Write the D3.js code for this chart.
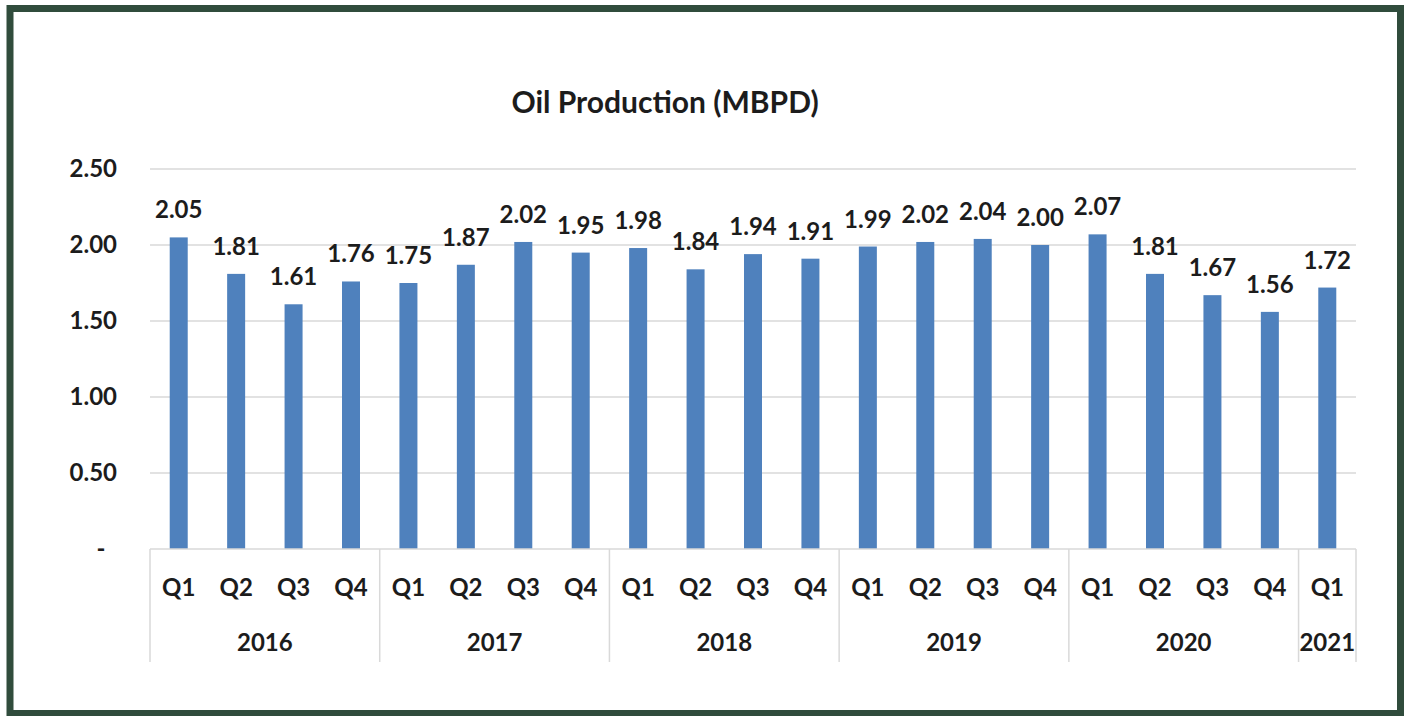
<!DOCTYPE html>
<html>
<head>
<meta charset="utf-8">
<script src="https://cdn.jsdelivr.net/npm/d3@7"></script>
<style>
  body { margin: 0; background: #fff; }
  text { font-family: Lato, "Open Sans", sans-serif; font-weight: bold; fill: #1c1c1c; }
</style>
</head>
<body>
<div id="chart"></div>
<script>
var years = ["2016", "2017", "2018", "2019", "2020", "2021"];
var quarters = ["Q1", "Q2", "Q3", "Q4", "Q1", "Q2", "Q3", "Q4", "Q1", "Q2", "Q3", "Q4",
    "Q1", "Q2", "Q3", "Q4", "Q1", "Q2", "Q3", "Q4", "Q1"];
var quarterYears = ["2016", "2016", "2016", "2016", "2017", "2017", "2017", "2017",
    "2018", "2018", "2018", "2018", "2019", "2019", "2019", "2019",
    "2020", "2020", "2020", "2020", "2021"];
var production = [2.05, 1.81, 1.61, 1.76, 1.75, 1.87, 2.02, 1.95, 1.98, 1.84, 1.94, 1.91,
    1.99, 2.02, 2.04, 2.00, 2.07, 1.81, 1.67, 1.56, 1.72];
var yTicks = [0, 0.5, 1, 1.5, 2, 2.5];

(function () {
    var width = 1410,
        height = 716;
    var left = 150, right = 1356, top = 169, bottom = 549;

    var svg = d3.select("#chart").append("svg")
        .attr("width", width)
        .attr("height", height);

    // frame
    svg.append("rect")
        .attr("x", 10).attr("y", 8.5)
        .attr("width", 1390.5).attr("height", 705)
        .attr("fill", "none")
        .attr("stroke", "#304c3c")
        .attr("stroke-width", 7);

    var data = production.map(function (v, i) {
        return { i: i, q: quarters[i], year: quarterYears[i], value: v };
    });

    var x = d3.scaleBand().domain(d3.range(data.length)).range([left, right]).padding(0);
    var y = d3.scaleLinear().domain([0, 2.5]).range([bottom, top]);
    var barW = 18;

    svg.append("text")
        .attr("x", 665).attr("y", 113)
        .attr("text-anchor", "middle")
        .style("font-size", "30px")
        .text("Oil Production (MBPD)");

    // gridlines
    svg.selectAll(".grid")
        .data(yTicks.filter(function (d) { return d > 0; }))
        .enter().append("line")
        .attr("class", "grid")
        .attr("x1", left).attr("x2", right)
        .attr("y1", function (d) { return y(d); })
        .attr("y2", function (d) { return y(d); })
        .attr("stroke", "#d9d9d9")
        .attr("stroke-width", 1.5);

    // y labels
    svg.selectAll(".ylab")
        .data(yTicks)
        .enter().append("text")
        .attr("class", "ylab")
        .attr("x", function (d) { return d === 0 ? 101 : 117; })
        .attr("y", function (d) { return y(d) + 8; })
        .attr("text-anchor", function (d) { return d === 0 ? "middle" : "end"; })
        .style("font-size", "24px")
        .text(function (d) { return d === 0 ? "-" : d3.format(".2f")(d); });

    // bars
    svg.selectAll(".bar")
        .data(data)
        .enter().append("rect")
        .attr("class", "bar")
        .attr("x", function (d) { return x(d.i) + x.bandwidth() / 2 - barW / 2; })
        .attr("y", function (d) { return y(d.value); })
        .attr("width", barW)
        .attr("height", function (d) { return bottom - y(d.value); })
        .attr("fill", "#4f81bd");

    // value labels
    svg.selectAll(".vlab")
        .data(data)
        .enter().append("text")
        .attr("class", "vlab")
        .attr("x", function (d) { return x(d.i) + x.bandwidth() / 2; })
        .attr("y", function (d) { return y(d.value) - 19; })
        .attr("text-anchor", "middle")
        .style("font-size", "24px")
        .text(function (d) { return d3.format(".2f")(d.value); });

    // category axis
    svg.append("line")
        .attr("x1", left).attr("x2", right)
        .attr("y1", bottom).attr("y2", bottom)
        .attr("stroke", "#d9d9d9").attr("stroke-width", 1.5);

    svg.selectAll(".qlab")
        .data(data)
        .enter().append("text")
        .attr("class", "qlab")
        .attr("x", function (d) { return x(d.i) + x.bandwidth() / 2; })
        .attr("y", 596)
        .attr("text-anchor", "middle")
        .style("font-size", "24px")
        .text(function (d) { return d.q; });

    var groups = years.map(function (yr) {
        var idx = data.filter(function (d) { return d.year === yr; }).map(function (d) { return d.i; });
        return { year: yr, x0: x(d3.min(idx)), x1: x(d3.max(idx)) + x.bandwidth() };
    });

    var dividers = [left].concat(groups.map(function (g) { return g.x1; }));
    svg.selectAll(".div")
        .data(dividers)
        .enter().append("line")
        .attr("class", "div")
        .attr("x1", function (d) { return d; }).attr("x2", function (d) { return d; })
        .attr("y1", bottom).attr("y2", 662)
        .attr("stroke", "#d9d9d9").attr("stroke-width", 1.5);

    svg.selectAll(".ylabel")
        .data(groups)
        .enter().append("text")
        .attr("class", "ylabel")
        .attr("x", function (g) { return (g.x0 + g.x1) / 2; })
        .attr("y", 651)
        .attr("text-anchor", "middle")
        .style("font-size", "24px")
        .text(function (g) { return g.year; });
})();
</script>
</body>
</html>
